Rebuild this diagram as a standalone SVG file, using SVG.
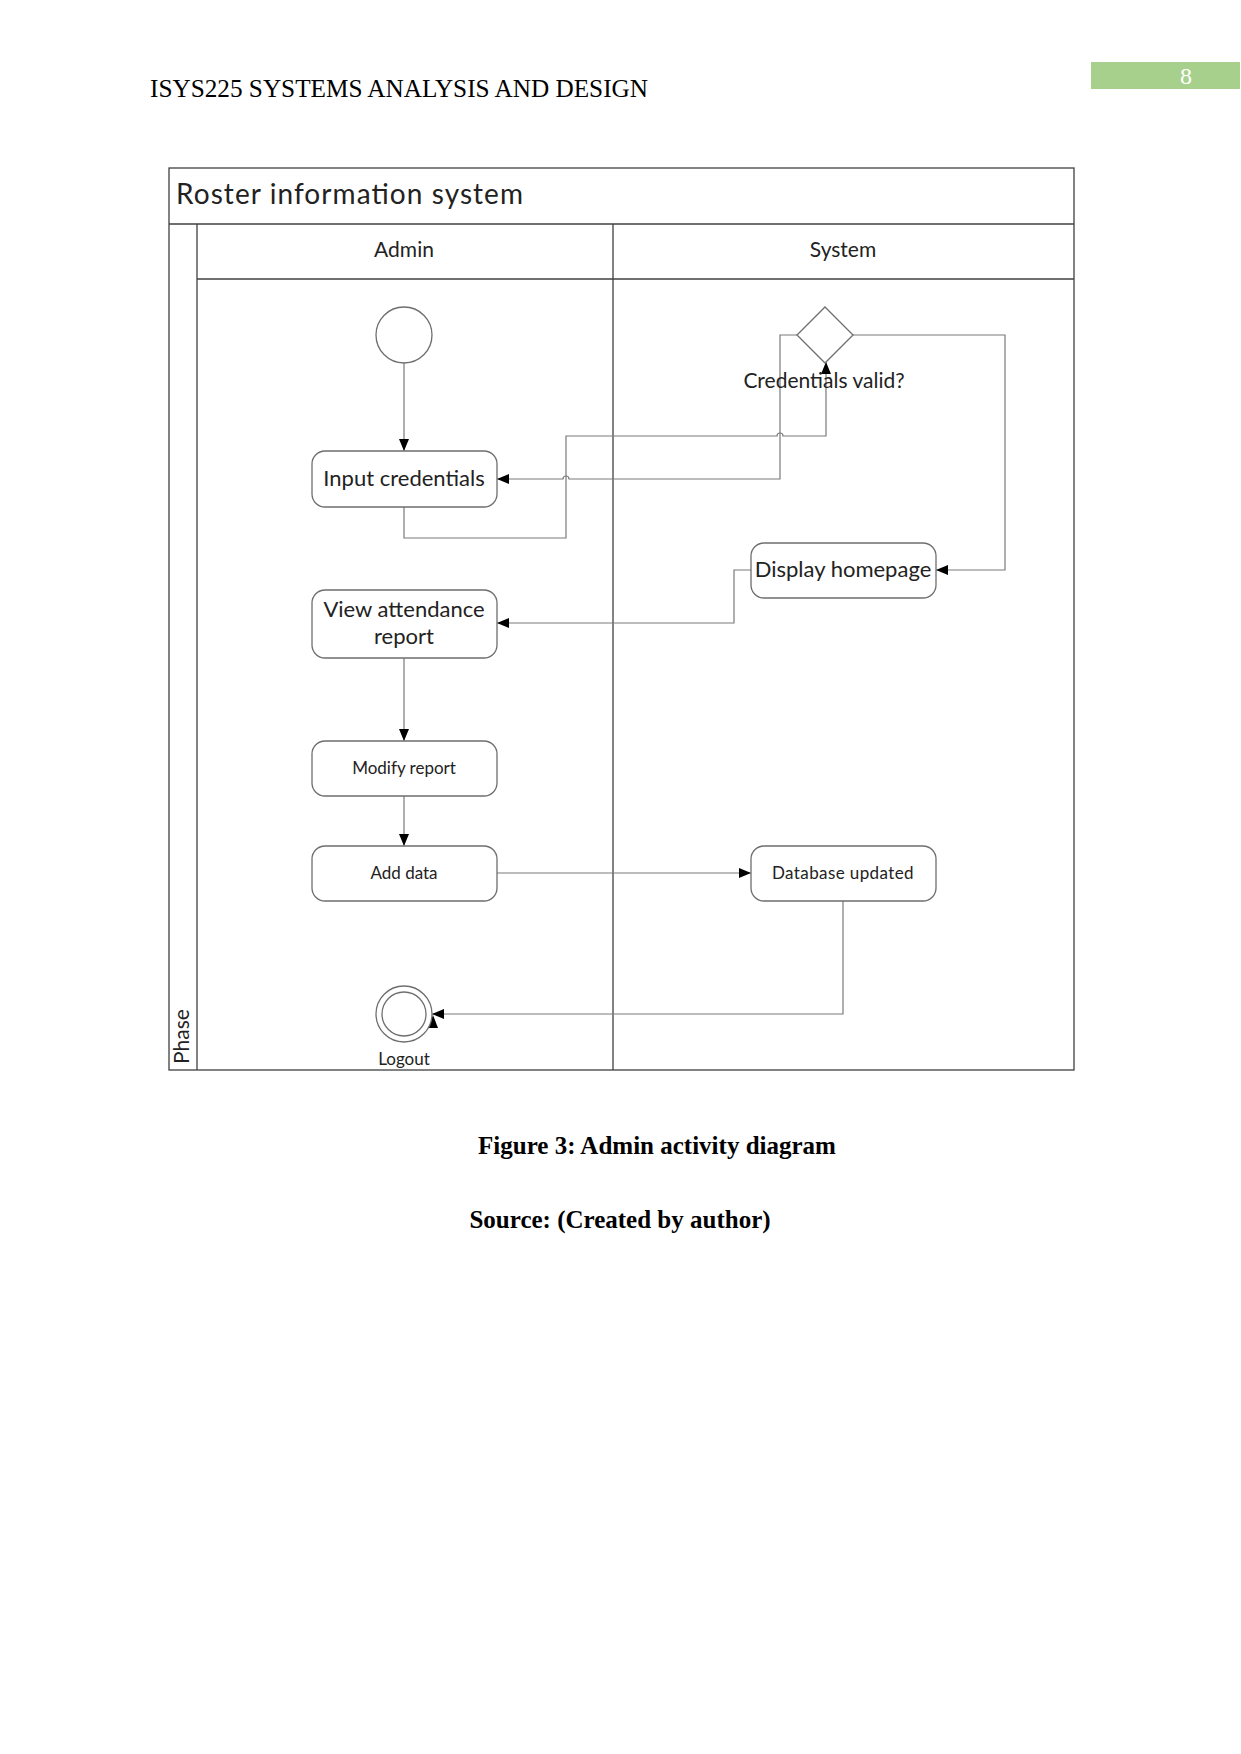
<svg xmlns="http://www.w3.org/2000/svg" width="1241" height="1754" viewBox="0 0 1241 1754">
<style>
.page{font-family:"Liberation Serif","Times New Roman",serif;font-size:25px;fill:#000}
.cap{font-family:"Liberation Serif","Times New Roman",serif;font-size:25px;font-weight:bold;fill:#000}
.lbl{font-family:Lato,"Open Sans",sans-serif;fill:#222}
.frame{fill:none;stroke:#404040;stroke-width:1.3}
.node{fill:#fff;stroke:#6e6e6e;stroke-width:1.3}
.conn{fill:none;stroke:#7a7a7a;stroke-width:1.2}
</style>
<defs>
<marker id="arr" markerWidth="12" markerHeight="10" refX="12" refY="5" orient="auto" markerUnits="userSpaceOnUse">
<path d="M0,0 L12,5 L0,10 Z" fill="#000"/>
</marker>
</defs>
<rect width="1241" height="1754" fill="#fff"/>

<g id="header">
<text class="page" x="150" y="97" textLength="498" lengthAdjust="spacingAndGlyphs">ISYS225 SYSTEMS ANALYSIS AND DESIGN</text>
<rect x="1091" y="62" width="149" height="27" fill="#a8d08d"/>
<text x="1186" y="84" font-family="Liberation Serif,serif" font-size="24" fill="#fff" text-anchor="middle">8</text>
</g>

<g id="frame">
<rect class="frame" x="169" y="168" width="905" height="902"/>
<line class="frame" x1="169" y1="224" x2="1074" y2="224"/>
<line class="frame" x1="197" y1="224" x2="197" y2="1070"/>
<line class="frame" x1="197" y1="279" x2="1074" y2="279"/>
<line class="frame" x1="613" y1="224" x2="613" y2="1070"/>
<text class="lbl" x="176" y="204" font-size="28" fill="#222" textLength="347" lengthAdjust="spacing">Roster information system</text>
<text class="lbl" x="404" y="257" font-size="21" text-anchor="middle">Admin</text>
<text class="lbl" x="843" y="257" font-size="21" text-anchor="middle">System</text>
<text class="lbl" transform="translate(189,1064) rotate(-90)" font-size="21">Phase</text>
</g>

<g id="connectors">
<line class="conn" x1="404" y1="363" x2="404" y2="451" marker-end="url(#arr)"/>
<path class="conn" d="M404,507 V538 H566 V436 H777 a3,3 0 0 1 6,0 H826 V362" marker-end="url(#arr)"/>
<path class="conn" d="M797,335 H780 V479 H569 a3,3 0 0 0 -6,0 H497" marker-end="url(#arr)"/>
<path class="conn" d="M853,335 H1005 V570 H936" marker-end="url(#arr)"/>
<path class="conn" d="M751,570 H734 V623 H497" marker-end="url(#arr)"/>
<line class="conn" x1="404" y1="658" x2="404" y2="741" marker-end="url(#arr)"/>
<line class="conn" x1="404" y1="796" x2="404" y2="846" marker-end="url(#arr)"/>
<line class="conn" x1="497" y1="873" x2="751" y2="873" marker-end="url(#arr)"/>
<path class="conn" d="M843,901 V1014 H432" marker-end="url(#arr)"/>
<path d="M428,1028 L433,1015 L438,1028 Z" fill="#000"/>
</g>

<g id="start"><circle class="node" cx="404" cy="335" r="28"/></g>

<g id="input-credentials">
<rect class="node" x="312" y="451" width="185" height="56" rx="13"/>
<text class="lbl" x="404" y="486" font-size="22" text-anchor="middle">Input credentials</text>
</g>

<g id="decision">
<path class="node" d="M825,307 L853,335 L825,363 L797,335 Z"/>
<text class="lbl" x="824" y="388" font-size="21" fill="#555" text-anchor="middle">Credentials valid?</text>
</g>

<g id="display-homepage">
<rect class="node" x="751" y="543" width="185" height="55" rx="13"/>
<text class="lbl" x="843" y="577" font-size="22" text-anchor="middle">Display homepage</text>
</g>

<g id="view-attendance">
<rect class="node" x="312" y="590" width="185" height="68" rx="13"/>
<text class="lbl" x="404" y="617" font-size="22" text-anchor="middle">View attendance</text>
<text class="lbl" x="404" y="644" font-size="22" text-anchor="middle">report</text>
</g>

<g id="modify-report">
<rect class="node" x="312" y="741" width="185" height="55" rx="13"/>
<text class="lbl" x="404" y="774" font-size="17" text-anchor="middle">Modify report</text>
</g>

<g id="add-data">
<rect class="node" x="312" y="846" width="185" height="55" rx="13"/>
<text class="lbl" x="404" y="879" font-size="17" text-anchor="middle">Add data</text>
</g>

<g id="database-updated">
<rect class="node" x="751" y="846" width="185" height="55" rx="13"/>
<text class="lbl" x="843" y="879" font-size="17" text-anchor="middle" letter-spacing="0.4">Database updated</text>
</g>

<g id="logout">
<circle class="node" cx="404" cy="1014" r="28"/>
<circle class="node" cx="404" cy="1014" r="22"/>
<text class="lbl" x="404" y="1065" font-size="17" fill="#555" text-anchor="middle">Logout</text>
</g>

<g id="caption">
<text class="cap" x="657" y="1154" text-anchor="middle">Figure 3: Admin activity diagram</text>
<text class="cap" x="620" y="1228" text-anchor="middle">Source: (Created by author)</text>
</g>
</svg>
